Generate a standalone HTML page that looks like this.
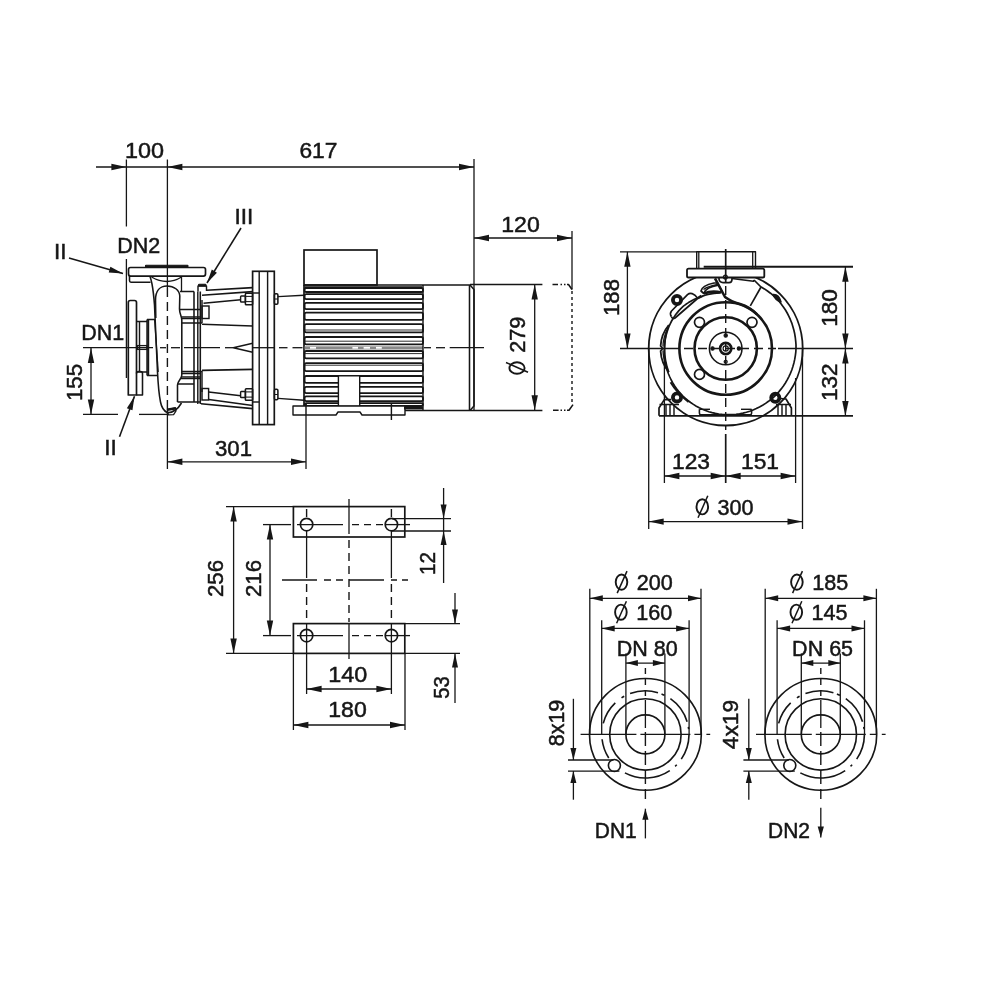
<!DOCTYPE html>
<html><head><meta charset="utf-8"><title>Pump dimension drawing</title>
<style>
html,body{margin:0;padding:0;background:#fff;}
body{width:1000px;height:1000px;overflow:hidden;}
svg{display:block;will-change:transform;}
text{font-family:"Liberation Sans",sans-serif;fill:#161616;stroke:#161616;stroke-width:0.5px;}
</style></head><body>
<svg width="1000" height="1000" viewBox="0 0 1000 1000">
<rect x="0" y="0" width="1000" height="1000" fill="#ffffff"/>
<line x1="96" y1="167" x2="474" y2="167" stroke="#161616" stroke-width="1.3" stroke-linecap="butt"/>
<polygon points="126.40,167.00 111.40,170.20 111.40,163.80" fill="#161616"/>
<polygon points="167.40,167.00 182.40,163.80 182.40,170.20" fill="#161616"/>
<polygon points="474.00,167.00 459.00,170.20 459.00,163.80" fill="#161616"/>
<line x1="126.4" y1="159.5" x2="126.4" y2="226.5" stroke="#161616" stroke-width="1.3" stroke-linecap="butt"/>
<line x1="126.4" y1="259" x2="126.4" y2="378" stroke="#161616" stroke-width="1.3" stroke-linecap="butt"/>
<line x1="167.4" y1="159.5" x2="167.4" y2="288" stroke="#161616" stroke-width="1.3" stroke-linecap="butt"/>
<line x1="167.4" y1="288" x2="167.4" y2="413" stroke="#161616" stroke-width="1.4" stroke-dasharray="9 5" stroke-linecap="butt"/>
<line x1="167.4" y1="413" x2="167.4" y2="469" stroke="#161616" stroke-width="1.3" stroke-linecap="butt"/>
<line x1="474" y1="159" x2="474" y2="411" stroke="#161616" stroke-width="1.3" stroke-linecap="butt"/>
<text x="144.4" y="157.6" font-size="22.5" text-anchor="middle" textLength="39" lengthAdjust="spacingAndGlyphs">100</text>
<text x="318.4" y="157.6" font-size="22.5" text-anchor="middle" textLength="38" lengthAdjust="spacingAndGlyphs">617</text>
<line x1="474" y1="238" x2="572" y2="238" stroke="#161616" stroke-width="1.3" stroke-linecap="butt"/>
<polygon points="474.00,238.00 489.00,234.80 489.00,241.20" fill="#161616"/>
<polygon points="572.00,238.00 557.00,241.20 557.00,234.80" fill="#161616"/>
<line x1="572" y1="231" x2="572" y2="289.5" stroke="#161616" stroke-width="1.3" stroke-linecap="butt"/>
<text x="520.5" y="232.0" font-size="22.5" text-anchor="middle" textLength="38.5" lengthAdjust="spacingAndGlyphs">120</text>
<line x1="534.7" y1="284.5" x2="534.7" y2="410.3" stroke="#161616" stroke-width="1.3" stroke-linecap="butt"/>
<polygon points="534.70,284.50 537.90,299.50 531.50,299.50" fill="#161616"/>
<polygon points="534.70,410.30 531.50,395.30 537.90,395.30" fill="#161616"/>
<line x1="91" y1="348" x2="91" y2="414.4" stroke="#161616" stroke-width="1.3" stroke-linecap="butt"/>
<polygon points="91.00,348.00 94.20,363.00 87.80,363.00" fill="#161616"/>
<polygon points="91.00,414.40 87.80,399.40 94.20,399.40" fill="#161616"/>
<line x1="83" y1="414.4" x2="118" y2="414.4" stroke="#161616" stroke-width="1.3" stroke-linecap="butt"/>
<line x1="139" y1="414.4" x2="167" y2="414.4" stroke="#161616" stroke-width="1.3" stroke-linecap="butt"/>
<text x="82.3" y="382.5" font-size="22.5" text-anchor="middle" transform="rotate(-90 82.3 382.5)" textLength="37" lengthAdjust="spacingAndGlyphs">155</text>
<line x1="167.4" y1="461.8" x2="306" y2="461.8" stroke="#161616" stroke-width="1.3" stroke-linecap="butt"/>
<polygon points="167.40,461.80 182.40,458.60 182.40,465.00" fill="#161616"/>
<polygon points="306.00,461.80 291.00,465.00 291.00,458.60" fill="#161616"/>
<line x1="306" y1="404" x2="306" y2="469" stroke="#161616" stroke-width="1.3" stroke-linecap="butt"/>
<text x="233.5" y="456.1" font-size="22.5" text-anchor="middle" textLength="37" lengthAdjust="spacingAndGlyphs">301</text>
<text x="60.2" y="258.6" font-size="22.5" text-anchor="middle">II</text>
<line x1="69" y1="258" x2="123" y2="273.6" stroke="#161616" stroke-width="1.56" stroke-linecap="butt"/>
<polygon points="123.00,273.60 108.72,272.60 110.38,266.83" fill="#161616"/>
<text x="244" y="223.6" font-size="22.5" text-anchor="middle">III</text>
<line x1="241" y1="228" x2="207" y2="283" stroke="#161616" stroke-width="1.56" stroke-linecap="butt"/>
<polygon points="207.00,283.00 211.81,269.51 216.91,272.67" fill="#161616"/>
<text x="138.8" y="252.6" font-size="22.5" text-anchor="middle" textLength="43" lengthAdjust="spacingAndGlyphs">DN2</text>
<text x="102.7" y="340.2" font-size="22.5" text-anchor="middle" textLength="43" lengthAdjust="spacingAndGlyphs">DN1</text>
<text x="110.5" y="454.6" font-size="22.5" text-anchor="middle">II</text>
<line x1="119.5" y1="436.7" x2="134.5" y2="396.2" stroke="#161616" stroke-width="1.56" stroke-linecap="butt"/>
<polygon points="134.50,396.20 132.45,410.37 126.82,408.29" fill="#161616"/>
<line x1="83" y1="347.7" x2="153" y2="347.7" stroke="#161616" stroke-width="1.3" stroke-linecap="butt"/>
<line x1="160" y1="347.7" x2="166" y2="347.7" stroke="#161616" stroke-width="1.3" stroke-linecap="butt"/>
<line x1="171" y1="347.7" x2="180" y2="347.7" stroke="#161616" stroke-width="1.3" stroke-linecap="butt"/>
<line x1="184" y1="347.7" x2="220" y2="347.7" stroke="#161616" stroke-width="1.3" stroke-linecap="butt"/>
<line x1="225" y1="347.7" x2="233" y2="347.7" stroke="#161616" stroke-width="1.3" stroke-linecap="butt"/>
<line x1="252.6" y1="347.7" x2="275" y2="347.7" stroke="#161616" stroke-width="1.3" stroke-linecap="butt"/>
<line x1="279" y1="347.7" x2="287.5" y2="347.7" stroke="#161616" stroke-width="1.3" stroke-linecap="butt"/>
<line x1="292.5" y1="347.7" x2="302.5" y2="347.7" stroke="#161616" stroke-width="1.3" stroke-linecap="butt"/>
<line x1="424" y1="347.7" x2="431" y2="347.7" stroke="#161616" stroke-width="1.3" stroke-linecap="butt"/>
<line x1="436" y1="347.7" x2="445" y2="347.7" stroke="#161616" stroke-width="1.3" stroke-linecap="butt"/>
<line x1="449.7" y1="347.7" x2="484" y2="347.7" stroke="#161616" stroke-width="1.3" stroke-linecap="butt"/>
<rect x="128.5" y="267.5" width="77" height="8.6" rx="2" ry="2" fill="none" stroke="#161616" stroke-width="1.69"/>
<path d="M129.5,276 L129.5,280.5 Q129.5,282.2 131,282.2 L150.5,282.2" fill="none" stroke="#161616" stroke-width="1.56" stroke-linejoin="round"/>
<rect x="145.5" y="265.3" width="42.5" height="1.6" rx="0.5" ry="0.5" fill="#161616" stroke="#161616" stroke-width="1.04"/>
<path d="M150,276.5 Q151,279 152,284 Q153.5,292 154.5,305 L157.5,372 Q158.5,392 160.5,402 Q162,410 167.5,412.8" fill="none" stroke="#161616" stroke-width="1.56" stroke-linejoin="round"/>
<path d="M151.5,277 Q167,286 181.5,277" fill="none" stroke="#161616" stroke-width="1.43" stroke-linejoin="round"/>
<line x1="181.5" y1="276.5" x2="181.5" y2="291.5" stroke="#161616" stroke-width="1.3" stroke-linecap="butt"/>
<path d="M155.8,318 L155.5,300 C155.5,291 160,286 167,286 C174,286 179.5,290 179.8,296 L179.5,309 C179.5,314 181.8,316 181.8,320 L181.8,375 C181.8,379 177.5,381 177.5,385 L177.5,402" fill="none" stroke="#161616" stroke-width="1.56" stroke-linejoin="round"/>
<path d="M154.6,319 L158.2,372" fill="none" stroke="#161616" stroke-width="1.3" stroke-linejoin="round"/>
<path d="M167.5,412.8 Q176,412.5 181.5,403" fill="none" stroke="#161616" stroke-width="1.56" stroke-linejoin="round"/>
<path d="M167.2,409.6 L175.6,408 L176,411 L173.6,414.6 L168.4,414.8 Z" fill="none" stroke="#161616" stroke-width="1.3" stroke-linejoin="round"/>
<path d="M167.2,409.8 L175.8,408.2" fill="none" stroke="#161616" stroke-width="2.6" stroke-linejoin="round"/>
<path d="M128.3,395 L128.3,302.5 Q128.3,300.5 130.3,300.5 L134.5,300.5 Q136.5,300.5 136.5,302.5 L136.5,395 Z" fill="none" stroke="#161616" stroke-width="1.69" stroke-linejoin="round"/>
<path d="M136.5,373.5 Q136.5,371.5 138.5,371.5 L140.5,371.5 Q142.5,371.5 142.5,373.5 L142.5,395 L136.5,395" fill="none" stroke="#161616" stroke-width="1.56" stroke-linejoin="round"/>
<path d="M136.5,321.5 L147.5,321.5 M136.5,372 L147.5,372 M139.5,321.5 L139.5,372 M147,319.5 L147,375.5 M148.5,319.5 L148.5,375.5" fill="none" stroke="#161616" stroke-width="1.43" stroke-linejoin="round"/>
<path d="M147,319.5 L154.6,319.5 M147,375.5 L158,375.5" fill="none" stroke="#161616" stroke-width="1.43" stroke-linejoin="round"/>
<rect x="137.5" y="345.6" width="9.5" height="3.8" rx="0" ry="0" fill="none" stroke="#161616" stroke-width="1.3"/>
<path d="M180,291.5 L194,291.5 M180,309.5 L200,309.5 M181.8,317 L200,317 M181.8,318.6 L200,318.6 M181.8,323 L202,323" fill="none" stroke="#161616" stroke-width="1.43" stroke-linejoin="round"/>
<path d="M181.8,371.5 L202,371.5 M181.8,373.5 L200,373.5 M181,377 L200,377 M180,378.6 L200,378.6 M177.5,384 L194,384 M177.5,402 L200,402" fill="none" stroke="#161616" stroke-width="1.43" stroke-linejoin="round"/>
<line x1="194" y1="291.5" x2="194" y2="402" stroke="#161616" stroke-width="1.56" stroke-linecap="butt"/>
<line x1="197.8" y1="291.5" x2="197.8" y2="404" stroke="#161616" stroke-width="1.43" stroke-linecap="butt"/>
<line x1="200.3" y1="291.5" x2="200.3" y2="404" stroke="#161616" stroke-width="1.56" stroke-linecap="butt"/>
<line x1="202" y1="300" x2="202" y2="323" stroke="#161616" stroke-width="1.43" stroke-linecap="butt"/>
<line x1="202" y1="371" x2="202" y2="392" stroke="#161616" stroke-width="1.43" stroke-linecap="butt"/>
<path d="M198,291.5 L198,286 L206.5,286 L206.5,291" fill="none" stroke="#161616" stroke-width="1.43" stroke-linejoin="round"/>
<rect x="198.5" y="284.2" width="7.5" height="1.8" rx="0.8" ry="0.8" fill="#161616" stroke="#161616" stroke-width="1.04"/>
<rect x="202" y="306" width="7" height="12.5" rx="0" ry="0" fill="none" stroke="#161616" stroke-width="1.43"/>
<rect x="202" y="388.5" width="6.6" height="11.5" rx="0" ry="0" fill="none" stroke="#161616" stroke-width="1.43"/>
<line x1="206.5" y1="290.2" x2="252.7" y2="287.6" stroke="#161616" stroke-width="1.56" stroke-linecap="butt"/>
<line x1="202" y1="295.2" x2="252.7" y2="291.6" stroke="#161616" stroke-width="1.56" stroke-linecap="butt"/>
<line x1="203.5" y1="303.2" x2="240.7" y2="299.8" stroke="#161616" stroke-width="1.56" stroke-linecap="butt"/>
<line x1="208.6" y1="392" x2="240.7" y2="395.8" stroke="#161616" stroke-width="1.56" stroke-linecap="butt"/>
<line x1="208.8" y1="399.6" x2="252.6" y2="405.6" stroke="#161616" stroke-width="1.56" stroke-linecap="butt"/>
<line x1="201" y1="403.8" x2="252.6" y2="408.6" stroke="#161616" stroke-width="1.56" stroke-linecap="butt"/>
<line x1="202" y1="324.3" x2="252.7" y2="326" stroke="#161616" stroke-width="1.56" stroke-linecap="butt"/>
<line x1="202" y1="370.4" x2="252.7" y2="369.4" stroke="#161616" stroke-width="1.56" stroke-linecap="butt"/>
<path d="M252.7,343.3 L233.3,347.7 L252.7,352.2" fill="none" stroke="#161616" stroke-width="1.43" stroke-linejoin="round"/>
<rect x="252.6" y="271.3" width="21.7" height="153.3" rx="0" ry="0" fill="none" stroke="#161616" stroke-width="1.69"/>
<line x1="259.2" y1="271.3" x2="259.2" y2="424.6" stroke="#161616" stroke-width="1.43" stroke-linecap="butt"/>
<line x1="267.6" y1="271.3" x2="267.6" y2="424.6" stroke="#161616" stroke-width="1.43" stroke-linecap="butt"/>
<rect x="240.6" y="296" width="4.8" height="6" rx="0.8" ry="0.8" fill="none" stroke="#161616" stroke-width="1.43"/>
<rect x="245.4" y="293.3" width="7.2" height="11.4" rx="0.8" ry="0.8" fill="none" stroke="#161616" stroke-width="1.56"/>
<line x1="245.4" y1="296.4" x2="252.6" y2="296.4" stroke="#161616" stroke-width="1.04" stroke-linecap="butt"/>
<line x1="245.4" y1="301.6" x2="252.6" y2="301.6" stroke="#161616" stroke-width="1.04" stroke-linecap="butt"/>
<rect x="274.4" y="293.8" width="3.5" height="10.4" rx="1.2" ry="1.2" fill="none" stroke="#161616" stroke-width="1.56"/>
<line x1="274.4" y1="299" x2="277.9" y2="299" stroke="#161616" stroke-width="1.04" stroke-linecap="butt"/>
<rect x="240.6" y="391.5" width="4.8" height="6" rx="0.8" ry="0.8" fill="none" stroke="#161616" stroke-width="1.43"/>
<rect x="245.4" y="388.8" width="7.2" height="11.4" rx="0.8" ry="0.8" fill="none" stroke="#161616" stroke-width="1.56"/>
<line x1="245.4" y1="391.9" x2="252.6" y2="391.9" stroke="#161616" stroke-width="1.04" stroke-linecap="butt"/>
<line x1="245.4" y1="397.1" x2="252.6" y2="397.1" stroke="#161616" stroke-width="1.04" stroke-linecap="butt"/>
<rect x="274.4" y="389.3" width="3.5" height="10.4" rx="1.2" ry="1.2" fill="none" stroke="#161616" stroke-width="1.56"/>
<line x1="274.4" y1="394.5" x2="277.9" y2="394.5" stroke="#161616" stroke-width="1.04" stroke-linecap="butt"/>
<line x1="252.6" y1="402" x2="259.2" y2="402" stroke="#161616" stroke-width="1.43" stroke-linecap="butt"/>
<line x1="252.6" y1="293" x2="259.2" y2="293" stroke="#161616" stroke-width="1.43" stroke-linecap="butt"/>
<line x1="278" y1="296.6" x2="304" y2="295.2" stroke="#161616" stroke-width="1.43" stroke-linecap="butt"/>
<line x1="278" y1="398.4" x2="304" y2="400.2" stroke="#161616" stroke-width="1.43" stroke-linecap="butt"/>
<rect x="304" y="250" width="73" height="35" rx="0" ry="0" fill="none" stroke="#161616" stroke-width="1.69"/>
<line x1="304" y1="285" x2="470" y2="285" stroke="#161616" stroke-width="1.69" stroke-linecap="butt"/>
<line x1="304" y1="285" x2="304" y2="406" stroke="#161616" stroke-width="1.69" stroke-linecap="butt"/>
<rect x="304.6" y="288" width="118.4" height="4" rx="1.6" ry="1.6" fill="none" stroke="#161616" stroke-width="1.82"/>
<rect x="304.6" y="294.2" width="118.4" height="5.0" rx="1.6" ry="1.6" fill="none" stroke="#161616" stroke-width="1.82"/>
<rect x="304.6" y="302.8" width="118.4" height="6.399999999999977" rx="1.6" ry="1.6" fill="none" stroke="#161616" stroke-width="1.82"/>
<rect x="304.6" y="312.6" width="118.4" height="7.199999999999989" rx="1.6" ry="1.6" fill="none" stroke="#161616" stroke-width="1.82"/>
<rect x="304.6" y="324.2" width="118.4" height="8.199999999999989" rx="1.6" ry="1.6" fill="none" stroke="#161616" stroke-width="1.82"/>
<line x1="305" y1="330" x2="422" y2="330" stroke="#2a2a2a" stroke-width="0.98" stroke-linecap="butt"/>
<rect x="304.6" y="337" width="118.4" height="7.399999999999977" rx="1.6" ry="1.6" fill="none" stroke="#161616" stroke-width="1.82"/>
<line x1="305" y1="341.2" x2="422" y2="341.2" stroke="#2a2a2a" stroke-width="0.98" stroke-linecap="butt"/>
<rect x="304.6" y="351" width="118.4" height="7.399999999999977" rx="1.6" ry="1.6" fill="none" stroke="#161616" stroke-width="1.82"/>
<line x1="305" y1="353.6" x2="422" y2="353.6" stroke="#2a2a2a" stroke-width="0.98" stroke-linecap="butt"/>
<rect x="304.6" y="363.2" width="118.4" height="8.0" rx="1.6" ry="1.6" fill="none" stroke="#161616" stroke-width="1.82"/>
<line x1="305" y1="365.2" x2="422" y2="365.2" stroke="#2a2a2a" stroke-width="0.98" stroke-linecap="butt"/>
<rect x="304.6" y="376" width="118.4" height="6.800000000000011" rx="1.6" ry="1.6" fill="none" stroke="#161616" stroke-width="1.82"/>
<rect x="304.6" y="386.8" width="118.4" height="6.399999999999977" rx="1.6" ry="1.6" fill="none" stroke="#161616" stroke-width="1.82"/>
<rect x="304.6" y="396.4" width="118.4" height="4.800000000000011" rx="1.6" ry="1.6" fill="none" stroke="#161616" stroke-width="1.82"/>
<rect x="304.6" y="403.2" width="118.4" height="2.8000000000000114" rx="1.6" ry="1.6" fill="none" stroke="#161616" stroke-width="1.82"/>
<line x1="304.6" y1="287.6" x2="422" y2="287.6" stroke="#161616" stroke-width="2.86" stroke-linecap="butt"/>
<rect x="304.6" y="346.3" width="118.4" height="3.2" fill="#8a8a8a"/>
<rect x="310" y="346.9" width="6" height="1.8" fill="#fff"/>
<rect x="352.4" y="346.9" width="5.600000000000023" height="1.8" fill="#fff"/>
<rect x="363.6" y="346.9" width="6.399999999999977" height="1.8" fill="#fff"/>
<rect x="376" y="346.9" width="5.800000000000011" height="1.8" fill="#fff"/>
<rect x="338.4" y="375.8" width="21.3" height="30.5" rx="0" ry="0" fill="#fff" stroke="#161616" stroke-width="1.4"/>
<line x1="423" y1="285" x2="423" y2="410.5" stroke="#161616" stroke-width="1.43" stroke-linecap="butt"/>
<path d="M470,285 L474,289.5 L474,406 L470,410.5" fill="none" stroke="#161616" stroke-width="1.56" stroke-linejoin="round"/>
<line x1="469.5" y1="285" x2="469.5" y2="410.5" stroke="#161616" stroke-width="1.56" stroke-linecap="butt"/>
<line x1="404" y1="410.5" x2="542.4" y2="410.5" stroke="#161616" stroke-width="1.56" stroke-linecap="butt"/>
<line x1="470" y1="284.5" x2="542.4" y2="284.5" stroke="#161616" stroke-width="1.56" stroke-linecap="butt"/>
<path d="M552.5,284.5 L558,284.5 M560.5,284.5 L562,284.5 M564,284.5 L565.5,284.5 M567,284.5 L568.5,284.5 L572,289.5" fill="none" stroke="#161616" stroke-width="1.56" stroke-linejoin="round"/>
<line x1="572" y1="291" x2="572" y2="404" stroke="#161616" stroke-width="1.4" stroke-dasharray="3 3" stroke-linecap="butt"/>
<path d="M553,410.3 L558.6,410.3 M560.5,410.3 L562,410.3 M564,410.3 L565.5,410.3 M567,410.3 L569,410.3 L573,404.6" fill="none" stroke="#161616" stroke-width="1.56" stroke-linejoin="round"/>
<path d="M293,406 L405,406 L405,415 L362,415 L360,412 L338,412 L336,415 L293,415 Z" fill="#fff" stroke="#161616" stroke-width="1.4" stroke-linejoin="round"/>
<line x1="391.4" y1="404" x2="391.4" y2="420" stroke="#161616" stroke-width="1.43" stroke-linecap="butt"/>
<line x1="306" y1="404" x2="306" y2="415" stroke="#161616" stroke-width="1.43" stroke-linecap="butt"/>
<line x1="404" y1="408" x2="423" y2="408" stroke="#161616" stroke-width="2.86" stroke-linecap="butt"/>
<line x1="620" y1="251.8" x2="756" y2="251.8" stroke="#161616" stroke-width="1.3" stroke-linecap="butt"/>
<line x1="627.4" y1="251.8" x2="627.4" y2="348.5" stroke="#161616" stroke-width="1.3" stroke-linecap="butt"/>
<polygon points="627.40,251.80 630.60,266.80 624.20,266.80" fill="#161616"/>
<polygon points="627.40,348.50 624.20,333.50 630.60,333.50" fill="#161616"/>
<text x="618.8" y="297.5" font-size="22.5" text-anchor="middle" transform="rotate(-90 618.8 297.5)" textLength="37" lengthAdjust="spacingAndGlyphs">188</text>
<line x1="620" y1="348.5" x2="680" y2="348.5" stroke="#161616" stroke-width="1.3" stroke-linecap="butt"/>
<line x1="684" y1="348.5" x2="776" y2="348.5" stroke="#161616" stroke-width="1.4" stroke-dasharray="9 5" stroke-linecap="butt"/>
<line x1="778" y1="348.5" x2="853" y2="348.5" stroke="#161616" stroke-width="1.3" stroke-linecap="butt"/>
<circle cx="725.7" cy="348.5" r="77" fill="none" stroke="#161616" stroke-width="1.82"/>
<path d="M659,415.8 L659,408 L664.3,399.6 L671,399.6 M791.4,415.8 L791.4,408 L786,399 L780,398.5" fill="none" stroke="#161616" stroke-width="1.69" stroke-linejoin="round"/>
<path d="M666,404.5 L666,415.8 M670,404.5 L670,415.8 M674,404.5 L674,415.8 M659.5,404.5 L679,404.5" fill="none" stroke="#161616" stroke-width="1.43" stroke-linejoin="round"/>
<path d="M778,404.5 L778,415.8 M782,404.5 L782,415.8 M786,404.5 L786,415.8 M776,404.5 L791,404.5" fill="none" stroke="#161616" stroke-width="1.43" stroke-linejoin="round"/>
<line x1="659" y1="415.8" x2="853" y2="415.8" stroke="#161616" stroke-width="1.69" stroke-linecap="butt"/>
<path d="M699.4,409.3 L699.4,413.2 Q699.4,414.8 701,414.8 L750,414.8 Q751.6,414.8 751.6,413.2 L751.6,409.3" fill="none" stroke="#161616" stroke-width="1.56" stroke-linejoin="round"/>
<line x1="699.4" y1="409.3" x2="710" y2="409.3" stroke="#161616" stroke-width="1.43" stroke-linecap="butt"/>
<line x1="741" y1="409.3" x2="751.6" y2="409.3" stroke="#161616" stroke-width="1.43" stroke-linecap="butt"/>
<path d="M719.9,293.0 L716.9,293.1 L714.0,293.4 L711.1,293.8 L708.1,294.4 L705.2,295.2 L702.4,296.1 L699.5,297.1 L696.7,298.3 L693.9,299.5 L691.2,301.0 L688.5,302.6 L685.9,304.3 L683.4,306.2 L681.1,308.3 L678.9,310.6 L676.9,313.1 L675.0,315.6 L673.3,318.2 L671.6,321.0 L670.2,323.8 L668.9,326.7 L667.8,329.7 L666.8,332.7 L666.0,335.8 L665.3,338.9 L664.9,342.1 L664.5,345.3 L664.4,348.5 L664.3,351.7 L664.4,354.9 L664.7,358.2 L665.1,361.4 L665.7,364.6 L666.5,367.7 L667.4,370.9 L668.5,374.0 L669.8,377.0 L671.2,380.0 L672.8,382.9 L674.5,385.7 L676.4,388.4 L678.4,391.0 L680.6,393.6 L682.9,396.0 L685.4,398.3 L687.9,400.5 L690.6,402.5 L693.4,404.4 L696.3,406.2 L699.3,407.8 L702.4,409.2 L705.5,410.5 L708.8,411.7 L712.1,412.6 L715.4,413.4 L718.8,414.0 L722.2,414.4 L725.7,414.7 L729.2,414.7 L732.6,414.6 L736.1,414.3 L739.6,413.8 L743.0,413.1 L746.4,412.2 L749.8,411.2 L753.1,410.0 L756.3,408.6 L759.5,407.0 L762.6,405.3 L765.6,403.4 L768.5,401.3 L771.3,399.1 L774.0,396.8 L776.5,394.3 L779.0,391.6 L781.2,388.9 L783.4,386.0 L785.4,383.0 L787.2,379.9 L788.9,376.6 L790.4,373.4 L791.8,370.0 L792.9,366.5 L793.9,363.0 L794.7,359.4 L795.3,355.8 L795.8,352.2 L796.0,348.5 L796.0,344.8 L795.7,341.1 L795.3,337.5 L794.7,333.8 L793.9,330.2 L792.9,326.7 L791.8,323.1 L790.4,319.7 L788.9,316.3 L787.2,313.0 L785.3,309.8 L783.2,306.7 L781.0,303.7 L778.6,300.8 L776.1,298.1 L773.4,295.6 L770.5,293.2 L767.5,291.0 L764.4,288.9 L761.2,287.0 L761.0,287.0 L754.0,280.0" fill="none" stroke="#161616" stroke-width="1.69" stroke-linejoin="round"/>
<path d="M696.7,268.5 L696.7,251.8 L755.5,251.8 L755.5,268.5" fill="#fff" stroke="#161616" stroke-width="1.4" stroke-linejoin="round"/>
<line x1="698.8" y1="251.8" x2="698.8" y2="268.5" stroke="#161616" stroke-width="1.3" stroke-linecap="butt"/>
<line x1="752.7" y1="251.8" x2="752.7" y2="268.5" stroke="#161616" stroke-width="1.3" stroke-linecap="butt"/>
<rect x="687" y="268.7" width="77.3" height="8.8" rx="1.6" ry="1.6" fill="#fff" stroke="#161616" stroke-width="1.82"/>
<line x1="703.7" y1="266.8" x2="853" y2="266.8" stroke="#161616" stroke-width="1.95" stroke-linecap="butt"/>
<circle cx="725.7" cy="348.5" r="46.3" fill="none" stroke="#161616" stroke-width="2.6"/>
<circle cx="725.7" cy="348.5" r="31.2" fill="none" stroke="#161616" stroke-width="2.6"/>
<circle cx="725.7" cy="348.5" r="16.3" fill="none" stroke="#161616" stroke-width="1.56"/>
<circle cx="725.7" cy="348.5" r="5.6" fill="none" stroke="#161616" stroke-width="2.6"/>
<circle cx="725.7" cy="348.5" r="2.6" fill="none" stroke="#161616" stroke-width="1.17"/>
<circle cx="699.5" cy="322.3" r="5" fill="none" stroke="#161616" stroke-width="1.69"/>
<circle cx="752.0" cy="322.3" r="5" fill="none" stroke="#161616" stroke-width="1.69"/>
<circle cx="699.5" cy="374.4" r="5" fill="none" stroke="#161616" stroke-width="1.69"/>
<circle cx="712.5" cy="348.5" r="1.7" fill="#161616" stroke="#161616" stroke-width="1.04"/>
<circle cx="738.9000000000001" cy="348.5" r="1.7" fill="#161616" stroke="#161616" stroke-width="1.04"/>
<circle cx="725.7" cy="335.5" r="1.7" fill="#161616" stroke="#161616" stroke-width="1.04"/>
<circle cx="725.7" cy="361.8" r="1.5" fill="none" stroke="#161616" stroke-width="1.3"/>
<circle cx="677" cy="300" r="4.1" fill="none" stroke="#161616" stroke-width="3.77"/>
<circle cx="677" cy="397.4" r="4.1" fill="none" stroke="#161616" stroke-width="3.77"/>
<circle cx="775.3" cy="397.8" r="4.1" fill="none" stroke="#161616" stroke-width="3.77"/>
<path d="M773,294.5 Q779,294 781,302 Q775,300 773,294.5 Z" fill="#161616" stroke="#161616" stroke-width="1.56" stroke-linejoin="round"/>
<path d="M715,278.3 L725,297 Q731,301.5 740,304 Q750,307 757,314.4" fill="none" stroke="#161616" stroke-width="2.6" stroke-linejoin="round"/>
<line x1="761" y1="287" x2="750.3" y2="305.8" stroke="#161616" stroke-width="1.69" stroke-linecap="butt"/>
<path d="M719,277.8 L719,279.2 Q719.5,282.6 723,282.6 L729,282.6 Q732,282.6 732,279.2 L732,277.8" fill="none" stroke="#161616" stroke-width="1.69" stroke-linejoin="round"/>
<circle cx="725.4" cy="277.1" r="1.9" fill="none" stroke="#161616" stroke-width="1.3"/>
<path d="M732,278.4 L753.5,281.3 L754,280" fill="none" stroke="#161616" stroke-width="1.56" stroke-linejoin="round"/>
<path d="M671.3,316.5 Q669.5,313.5 671.5,311 L687.5,294.6 Q689.5,293 692,293.6 L695,295.2 L698,298.5" fill="none" stroke="#161616" stroke-width="1.69" stroke-linejoin="round"/>
<path d="M671.3,316.5 Q672.5,319.5 675,318 L701,295.5" fill="none" stroke="#161616" stroke-width="1.69" stroke-linejoin="round"/>
<path d="M698,298.5 L703,296.2" fill="none" stroke="#161616" stroke-width="1.43" stroke-linejoin="round"/>
<path d="M701,291 Q702,285.5 714,283 L717.5,283 L718.2,285.2 Q706,287 703.8,293.5 Z" fill="none" stroke="#161616" stroke-width="1.69" stroke-linejoin="round"/>
<path d="M703.5,289.6 Q708,286 717.8,284.4" fill="none" stroke="#161616" stroke-width="1.3" stroke-linejoin="round"/>
<path d="M703.8,293.5 Q712,290.2 721.5,292.6" fill="none" stroke="#161616" stroke-width="2.6" stroke-linejoin="round"/>
<path d="M717.5,283 L720.5,288.5 L722.5,292" fill="none" stroke="#161616" stroke-width="1.43" stroke-linejoin="round"/>
<path d="M668.8,325 Q661.2,334 660.6,346 L662.8,348.5 L660.6,351 Q661.2,363 668.8,372" fill="none" stroke="#161616" stroke-width="1.82" stroke-linejoin="round"/>
<path d="M668.8,325 Q664.6,336 664.6,348.5 Q664.6,361 668.8,372" fill="none" stroke="#161616" stroke-width="1.56" stroke-linejoin="round"/>
<path d="M666.8,330 Q663,339 663,346.5 M663,350.5 Q663,358 666.8,367" fill="none" stroke="#161616" stroke-width="1.3" stroke-linejoin="round"/>
<path d="M670.6,382.3 Q677,393 688.6,402" fill="none" stroke="#161616" stroke-width="2.08" stroke-linejoin="round"/>
<line x1="725.7" y1="249" x2="725.7" y2="283" stroke="#161616" stroke-width="1.69" stroke-linecap="butt"/>
<line x1="725.7" y1="286" x2="725.7" y2="430" stroke="#161616" stroke-width="1.4" stroke-dasharray="9 5" stroke-linecap="butt"/>
<line x1="725.7" y1="434" x2="725.7" y2="483" stroke="#161616" stroke-width="1.69" stroke-linecap="butt"/>
<line x1="845.4" y1="266.8" x2="845.4" y2="416" stroke="#161616" stroke-width="1.3" stroke-linecap="butt"/>
<polygon points="845.40,266.80 848.60,281.80 842.20,281.80" fill="#161616"/>
<polygon points="845.40,348.50 842.20,333.50 848.60,333.50" fill="#161616"/>
<polygon points="845.40,348.50 848.60,363.50 842.20,363.50" fill="#161616"/>
<polygon points="845.40,416.00 842.20,401.00 848.60,401.00" fill="#161616"/>
<text x="836.9" y="308" font-size="22.5" text-anchor="middle" transform="rotate(-90 836.9 308)" textLength="37.5" lengthAdjust="spacingAndGlyphs">180</text>
<text x="836.9" y="382.2" font-size="22.5" text-anchor="middle" transform="rotate(-90 836.9 382.2)" textLength="37.5" lengthAdjust="spacingAndGlyphs">132</text>
<line x1="648.7" y1="348.5" x2="648.7" y2="529" stroke="#161616" stroke-width="1.3" stroke-linecap="butt"/>
<line x1="802.5" y1="348.5" x2="802.5" y2="529" stroke="#161616" stroke-width="1.3" stroke-linecap="butt"/>
<line x1="664.4" y1="354" x2="664.4" y2="483" stroke="#161616" stroke-width="1.3" stroke-linecap="butt"/>
<line x1="795.6" y1="378" x2="795.6" y2="483" stroke="#161616" stroke-width="1.3" stroke-linecap="butt"/>
<line x1="664.4" y1="476" x2="795.6" y2="476" stroke="#161616" stroke-width="1.3" stroke-linecap="butt"/>
<polygon points="664.40,476.00 679.40,472.80 679.40,479.20" fill="#161616"/>
<polygon points="725.70,476.00 710.70,479.20 710.70,472.80" fill="#161616"/>
<polygon points="725.70,476.00 740.70,472.80 740.70,479.20" fill="#161616"/>
<polygon points="795.60,476.00 780.60,479.20 780.60,472.80" fill="#161616"/>
<text x="691" y="468.6" font-size="22.5" text-anchor="middle" textLength="38" lengthAdjust="spacingAndGlyphs">123</text>
<text x="760" y="468.6" font-size="22.5" text-anchor="middle" textLength="38" lengthAdjust="spacingAndGlyphs">151</text>
<line x1="648.7" y1="521.6" x2="802.5" y2="521.6" stroke="#161616" stroke-width="1.3" stroke-linecap="butt"/>
<polygon points="648.70,521.60 663.70,518.40 663.70,524.80" fill="#161616"/>
<polygon points="802.50,521.60 787.50,524.80 787.50,518.40" fill="#161616"/>
<g>
<ellipse cx="702.3000000000001" cy="506.8" rx="5.8" ry="7.6" fill="none" stroke="#161616" stroke-width="1.9"/>
<line x1="698.0" y1="517.8" x2="707.8000000000001" y2="495.8" stroke="#161616" stroke-width="1.5"/>
<text x="717.6" y="514.6" font-size="22.5" text-anchor="start" textLength="36" lengthAdjust="spacingAndGlyphs">300</text>
</g>
<rect x="293.4" y="506.6" width="111.4" height="30.4" rx="0" ry="0" fill="none" stroke="#161616" stroke-width="1.69"/>
<rect x="293.4" y="623.6" width="111.4" height="29.8" rx="0" ry="0" fill="none" stroke="#161616" stroke-width="1.69"/>
<line x1="226" y1="506.6" x2="293.4" y2="506.6" stroke="#161616" stroke-width="1.3" stroke-linecap="butt"/>
<line x1="226" y1="653.4" x2="293.4" y2="653.4" stroke="#161616" stroke-width="1.3" stroke-linecap="butt"/>
<line x1="405" y1="623.6" x2="460" y2="623.6" stroke="#161616" stroke-width="1.3" stroke-linecap="butt"/>
<line x1="405" y1="653.4" x2="460" y2="653.4" stroke="#161616" stroke-width="1.3" stroke-linecap="butt"/>
<line x1="233.6" y1="506.6" x2="233.6" y2="653.4" stroke="#161616" stroke-width="1.3" stroke-linecap="butt"/>
<polygon points="233.60,506.60 236.80,521.60 230.40,521.60" fill="#161616"/>
<polygon points="233.60,653.40 230.40,638.40 236.80,638.40" fill="#161616"/>
<line x1="270" y1="524.6" x2="270" y2="635.6" stroke="#161616" stroke-width="1.3" stroke-linecap="butt"/>
<polygon points="270.00,524.60 273.20,539.60 266.80,539.60" fill="#161616"/>
<polygon points="270.00,635.60 266.80,620.60 273.20,620.60" fill="#161616"/>
<text x="223.3" y="578.5" font-size="22.5" text-anchor="middle" transform="rotate(-90 223.3 578.5)" textLength="37" lengthAdjust="spacingAndGlyphs">256</text>
<text x="261.3" y="578.5" font-size="22.5" text-anchor="middle" transform="rotate(-90 261.3 578.5)" textLength="37" lengthAdjust="spacingAndGlyphs">216</text>
<line x1="263" y1="524.6" x2="291" y2="524.6" stroke="#161616" stroke-width="1.3" stroke-linecap="butt"/>
<line x1="297" y1="524.6" x2="343" y2="524.6" stroke="#161616" stroke-width="1.3" stroke-linecap="butt"/>
<line x1="352" y1="524.6" x2="386" y2="524.6" stroke="#161616" stroke-width="1.4" stroke-dasharray="7 5" stroke-linecap="butt"/>
<line x1="386" y1="524.6" x2="410" y2="524.6" stroke="#161616" stroke-width="1.3" stroke-linecap="butt"/>
<circle cx="306.6" cy="524.6" r="6.2" fill="none" stroke="#161616" stroke-width="1.69"/>
<circle cx="391.4" cy="524.6" r="6.2" fill="none" stroke="#161616" stroke-width="1.69"/>
<line x1="263" y1="635.6" x2="291" y2="635.6" stroke="#161616" stroke-width="1.3" stroke-linecap="butt"/>
<line x1="297" y1="635.6" x2="343" y2="635.6" stroke="#161616" stroke-width="1.3" stroke-linecap="butt"/>
<line x1="352" y1="635.6" x2="386" y2="635.6" stroke="#161616" stroke-width="1.4" stroke-dasharray="7 5" stroke-linecap="butt"/>
<line x1="386" y1="635.6" x2="410" y2="635.6" stroke="#161616" stroke-width="1.3" stroke-linecap="butt"/>
<circle cx="306.6" cy="635.6" r="6.2" fill="none" stroke="#161616" stroke-width="1.69"/>
<circle cx="391.4" cy="635.6" r="6.2" fill="none" stroke="#161616" stroke-width="1.69"/>
<line x1="349" y1="499" x2="349" y2="534" stroke="#161616" stroke-width="1.3" stroke-linecap="butt"/>
<line x1="349" y1="540" x2="349" y2="622" stroke="#161616" stroke-width="1.4" stroke-dasharray="8 5" stroke-linecap="butt"/>
<line x1="349" y1="624" x2="349" y2="659" stroke="#161616" stroke-width="1.3" stroke-linecap="butt"/>
<line x1="282" y1="580" x2="317" y2="580" stroke="#161616" stroke-width="1.3" stroke-linecap="butt"/>
<line x1="324" y1="580" x2="346" y2="580" stroke="#161616" stroke-width="1.4" stroke-dasharray="7 5" stroke-linecap="butt"/>
<line x1="349" y1="580" x2="384" y2="580" stroke="#161616" stroke-width="1.3" stroke-linecap="butt"/>
<line x1="391" y1="580" x2="408" y2="580" stroke="#161616" stroke-width="1.4" stroke-dasharray="6 5" stroke-linecap="butt"/>
<line x1="306.6" y1="509" x2="306.6" y2="520" stroke="#161616" stroke-width="1.4" stroke-dasharray="8 4" stroke-linecap="butt"/>
<line x1="306.6" y1="531" x2="306.6" y2="578" stroke="#161616" stroke-width="1.3" stroke-linecap="butt"/>
<line x1="306.6" y1="584" x2="306.6" y2="622" stroke="#161616" stroke-width="1.4" stroke-dasharray="8 5" stroke-linecap="butt"/>
<line x1="391.4" y1="509" x2="391.4" y2="520" stroke="#161616" stroke-width="1.4" stroke-dasharray="8 4" stroke-linecap="butt"/>
<line x1="391.4" y1="531" x2="391.4" y2="578" stroke="#161616" stroke-width="1.3" stroke-linecap="butt"/>
<line x1="391.4" y1="584" x2="391.4" y2="622" stroke="#161616" stroke-width="1.4" stroke-dasharray="8 5" stroke-linecap="butt"/>
<line x1="306.6" y1="624" x2="306.6" y2="694" stroke="#161616" stroke-width="1.3" stroke-linecap="butt"/>
<line x1="391.4" y1="624" x2="391.4" y2="694" stroke="#161616" stroke-width="1.3" stroke-linecap="butt"/>
<line x1="293.4" y1="653.4" x2="293.4" y2="730" stroke="#161616" stroke-width="1.3" stroke-linecap="butt"/>
<line x1="405" y1="653.4" x2="405" y2="730" stroke="#161616" stroke-width="1.3" stroke-linecap="butt"/>
<line x1="306.6" y1="689" x2="391.4" y2="689" stroke="#161616" stroke-width="1.3" stroke-linecap="butt"/>
<polygon points="306.60,689.00 321.60,685.80 321.60,692.20" fill="#161616"/>
<polygon points="391.40,689.00 376.40,692.20 376.40,685.80" fill="#161616"/>
<line x1="293.4" y1="725" x2="405" y2="725" stroke="#161616" stroke-width="1.3" stroke-linecap="butt"/>
<polygon points="293.40,725.00 308.40,721.80 308.40,728.20" fill="#161616"/>
<polygon points="405.00,725.00 390.00,728.20 390.00,721.80" fill="#161616"/>
<text x="347.7" y="681.6" font-size="22.5" text-anchor="middle" textLength="39" lengthAdjust="spacingAndGlyphs">140</text>
<text x="347.5" y="717.2" font-size="22.5" text-anchor="middle" textLength="38.5" lengthAdjust="spacingAndGlyphs">180</text>
<line x1="392" y1="518.6" x2="451" y2="518.6" stroke="#161616" stroke-width="1.3" stroke-linecap="butt"/>
<line x1="392" y1="531" x2="451" y2="531" stroke="#161616" stroke-width="1.3" stroke-linecap="butt"/>
<line x1="443.6" y1="488" x2="443.6" y2="583" stroke="#161616" stroke-width="1.3" stroke-linecap="butt"/>
<polygon points="443.60,518.60 440.60,504.60 446.60,504.60" fill="#161616"/>
<polygon points="443.60,531.00 446.60,545.00 440.60,545.00" fill="#161616"/>
<text x="435.3" y="563.5" font-size="22.5" text-anchor="middle" transform="rotate(-90 435.3 563.5)" textLength="23" lengthAdjust="spacingAndGlyphs">12</text>
<line x1="455" y1="593" x2="455" y2="623.6" stroke="#161616" stroke-width="1.3" stroke-linecap="butt"/>
<line x1="455" y1="653.4" x2="455" y2="703" stroke="#161616" stroke-width="1.3" stroke-linecap="butt"/>
<polygon points="455.00,623.60 452.00,609.60 458.00,609.60" fill="#161616"/>
<polygon points="455.00,653.40 458.00,667.40 452.00,667.40" fill="#161616"/>
<text x="448.9" y="687.5" font-size="22.5" text-anchor="middle" transform="rotate(-90 448.9 687.5)" textLength="22.5" lengthAdjust="spacingAndGlyphs">53</text>
<circle cx="645.4" cy="734.4" r="55.9" fill="none" stroke="#161616" stroke-width="1.62"/>
<circle cx="645.4" cy="734.4" r="35.7" fill="none" stroke="#161616" stroke-width="1.62"/>
<circle cx="645.4" cy="734.4" r="19.5" fill="none" stroke="#161616" stroke-width="1.62"/>
<path d="M689.00,735.01 A43.6,43.6 0 0 1 681.29,759.16 M676.76,764.69 A43.6,43.6 0 0 1 675.14,766.29 M669.78,770.55 A43.6,43.6 0 0 1 624.93,772.90 M608.75,758.02 A43.6,43.6 0 0 1 602.07,739.26 M603.23,723.34 A43.6,43.6 0 0 1 615.28,702.88 M621.53,697.92 A43.6,43.6 0 0 1 624.20,696.30 M630.06,693.59 A43.6,43.6 0 0 1 658.00,692.66 M661.52,693.89 A43.6,43.6 0 0 1 664.58,695.25 M670.41,698.68 A43.6,43.6 0 0 1 687.14,721.80 M688.34,726.83 A43.6,43.6 0 0 1 688.68,729.09 " fill="none" stroke="#161616" stroke-width="1.62" stroke-linejoin="round"/>
<circle cx="614.4" cy="765.5" r="6.0" fill="none" stroke="#161616" stroke-width="1.62"/>
<line x1="589.8" y1="588.8" x2="589.8" y2="734.4" stroke="#161616" stroke-width="1.3" stroke-linecap="butt"/>
<line x1="701.0" y1="588.8" x2="701.0" y2="734.4" stroke="#161616" stroke-width="1.3" stroke-linecap="butt"/>
<line x1="589.8" y1="598.3" x2="701.0" y2="598.3" stroke="#161616" stroke-width="1.3" stroke-linecap="butt"/>
<polygon points="589.80,598.30 602.80,595.30 602.80,601.30" fill="#161616"/>
<polygon points="701.00,598.30 688.00,601.30 688.00,595.30" fill="#161616"/>
<line x1="601.6999999999999" y1="620.3" x2="601.6999999999999" y2="734.4" stroke="#161616" stroke-width="1.3" stroke-linecap="butt"/>
<line x1="689.1" y1="620.3" x2="689.1" y2="734.4" stroke="#161616" stroke-width="1.3" stroke-linecap="butt"/>
<line x1="601.6999999999999" y1="628.4" x2="689.1" y2="628.4" stroke="#161616" stroke-width="1.3" stroke-linecap="butt"/>
<polygon points="601.70,628.40 614.70,625.40 614.70,631.40" fill="#161616"/>
<polygon points="689.10,628.40 676.10,631.40 676.10,625.40" fill="#161616"/>
<line x1="625.9" y1="653.6" x2="625.9" y2="734.4" stroke="#161616" stroke-width="1.3" stroke-linecap="butt"/>
<line x1="664.9" y1="653.6" x2="664.9" y2="734.4" stroke="#161616" stroke-width="1.3" stroke-linecap="butt"/>
<line x1="625.9" y1="663.1" x2="664.9" y2="663.1" stroke="#161616" stroke-width="1.3" stroke-linecap="butt"/>
<polygon points="625.90,663.10 637.90,660.10 637.90,666.10" fill="#161616"/>
<polygon points="664.90,663.10 652.90,666.10 652.90,660.10" fill="#161616"/>
<g>
<ellipse cx="621.5" cy="582.0999999999999" rx="5.8" ry="7.6" fill="none" stroke="#161616" stroke-width="1.9"/>
<line x1="617.1999999999999" y1="593.0999999999999" x2="627.0" y2="571.0999999999999" stroke="#161616" stroke-width="1.5"/>
<text x="636.8" y="589.9" font-size="22.5" text-anchor="start" textLength="36" lengthAdjust="spacingAndGlyphs">200</text>
</g>
<g>
<ellipse cx="620.9" cy="612.1999999999999" rx="5.8" ry="7.6" fill="none" stroke="#161616" stroke-width="1.9"/>
<line x1="616.5999999999999" y1="623.1999999999999" x2="626.4" y2="601.1999999999999" stroke="#161616" stroke-width="1.5"/>
<text x="636.1999999999999" y="620.0" font-size="22.5" text-anchor="start" textLength="36" lengthAdjust="spacingAndGlyphs">160</text>
</g>
<text x="647.1999999999999" y="656.0" font-size="22.5" text-anchor="middle" textLength="61" lengthAdjust="spacingAndGlyphs">DN 80</text>
<line x1="580.6" y1="734.4" x2="636.4" y2="734.4" stroke="#161616" stroke-width="1.3" stroke-linecap="butt"/>
<line x1="640.4" y1="734.4" x2="690.4" y2="734.4" stroke="#161616" stroke-width="1.3" stroke-linecap="butt"/>
<line x1="694.4" y1="734.4" x2="710.1999999999999" y2="734.4" stroke="#161616" stroke-width="1.4" stroke-dasharray="7 5" stroke-linecap="butt"/>
<line x1="645.4" y1="668" x2="645.4" y2="700" stroke="#161616" stroke-width="1.4" stroke-dasharray="6 5" stroke-linecap="butt"/>
<line x1="645.4" y1="700" x2="645.4" y2="728" stroke="#161616" stroke-width="1.3" stroke-linecap="butt"/>
<line x1="645.4" y1="732" x2="645.4" y2="799" stroke="#161616" stroke-width="1.4" stroke-dasharray="14 5" stroke-linecap="butt"/>
<line x1="568.0" y1="760" x2="613.4" y2="760" stroke="#161616" stroke-width="1.3" stroke-linecap="butt"/>
<line x1="568.0" y1="771.1" x2="619.4" y2="771.1" stroke="#161616" stroke-width="1.3" stroke-linecap="butt"/>
<line x1="573.4" y1="698.8" x2="573.4" y2="760" stroke="#161616" stroke-width="1.3" stroke-linecap="butt"/>
<line x1="573.4" y1="771.1" x2="573.4" y2="799.7" stroke="#161616" stroke-width="1.3" stroke-linecap="butt"/>
<polygon points="573.40,760.00 570.40,748.00 576.40,748.00" fill="#161616"/>
<polygon points="573.40,771.10 576.40,783.10 570.40,783.10" fill="#161616"/>
<text x="564.4" y="723" font-size="22.5" text-anchor="middle" transform="rotate(-90 564.4 723)" textLength="46.5" lengthAdjust="spacingAndGlyphs">8x19</text>
<line x1="645.4" y1="808.7" x2="645.4" y2="838.4" stroke="#161616" stroke-width="1.3" stroke-linecap="butt"/>
<polygon points="645.40,808.70 648.50,819.70 642.30,819.70" fill="#161616"/>
<text x="615.8" y="838.1" font-size="22.5" text-anchor="middle" textLength="42" lengthAdjust="spacingAndGlyphs">DN1</text>
<circle cx="820.8" cy="734.4" r="55.9" fill="none" stroke="#161616" stroke-width="1.62"/>
<circle cx="820.8" cy="734.4" r="35.7" fill="none" stroke="#161616" stroke-width="1.62"/>
<circle cx="820.8" cy="734.4" r="19.5" fill="none" stroke="#161616" stroke-width="1.62"/>
<path d="M864.40,735.01 A43.6,43.6 0 0 1 856.69,759.16 M852.16,764.69 A43.6,43.6 0 0 1 850.54,766.29 M845.18,770.55 A43.6,43.6 0 0 1 800.33,772.90 M784.15,758.02 A43.6,43.6 0 0 1 777.47,739.26 M778.63,723.34 A43.6,43.6 0 0 1 790.68,702.88 M796.93,697.92 A43.6,43.6 0 0 1 799.60,696.30 M805.46,693.59 A43.6,43.6 0 0 1 833.40,692.66 M836.92,693.89 A43.6,43.6 0 0 1 839.98,695.25 M845.81,698.68 A43.6,43.6 0 0 1 862.54,721.80 M863.74,726.83 A43.6,43.6 0 0 1 864.08,729.09 " fill="none" stroke="#161616" stroke-width="1.62" stroke-linejoin="round"/>
<circle cx="789.8" cy="765.5" r="6.0" fill="none" stroke="#161616" stroke-width="1.62"/>
<line x1="765.1999999999999" y1="588.8" x2="765.1999999999999" y2="734.4" stroke="#161616" stroke-width="1.3" stroke-linecap="butt"/>
<line x1="876.4" y1="588.8" x2="876.4" y2="734.4" stroke="#161616" stroke-width="1.3" stroke-linecap="butt"/>
<line x1="765.1999999999999" y1="598.3" x2="876.4" y2="598.3" stroke="#161616" stroke-width="1.3" stroke-linecap="butt"/>
<polygon points="765.20,598.30 778.20,595.30 778.20,601.30" fill="#161616"/>
<polygon points="876.40,598.30 863.40,601.30 863.40,595.30" fill="#161616"/>
<line x1="777.0999999999999" y1="620.3" x2="777.0999999999999" y2="734.4" stroke="#161616" stroke-width="1.3" stroke-linecap="butt"/>
<line x1="864.5" y1="620.3" x2="864.5" y2="734.4" stroke="#161616" stroke-width="1.3" stroke-linecap="butt"/>
<line x1="777.0999999999999" y1="628.4" x2="864.5" y2="628.4" stroke="#161616" stroke-width="1.3" stroke-linecap="butt"/>
<polygon points="777.10,628.40 790.10,625.40 790.10,631.40" fill="#161616"/>
<polygon points="864.50,628.40 851.50,631.40 851.50,625.40" fill="#161616"/>
<line x1="801.3" y1="653.6" x2="801.3" y2="734.4" stroke="#161616" stroke-width="1.3" stroke-linecap="butt"/>
<line x1="840.3" y1="653.6" x2="840.3" y2="734.4" stroke="#161616" stroke-width="1.3" stroke-linecap="butt"/>
<line x1="801.3" y1="663.1" x2="840.3" y2="663.1" stroke="#161616" stroke-width="1.3" stroke-linecap="butt"/>
<polygon points="801.30,663.10 813.30,660.10 813.30,666.10" fill="#161616"/>
<polygon points="840.30,663.10 828.30,666.10 828.30,660.10" fill="#161616"/>
<g>
<ellipse cx="796.9" cy="582.0999999999999" rx="5.8" ry="7.6" fill="none" stroke="#161616" stroke-width="1.9"/>
<line x1="792.5999999999999" y1="593.0999999999999" x2="802.4" y2="571.0999999999999" stroke="#161616" stroke-width="1.5"/>
<text x="812.1999999999999" y="589.9" font-size="22.5" text-anchor="start" textLength="36" lengthAdjust="spacingAndGlyphs">185</text>
</g>
<g>
<ellipse cx="796.3" cy="612.1999999999999" rx="5.8" ry="7.6" fill="none" stroke="#161616" stroke-width="1.9"/>
<line x1="791.9999999999999" y1="623.1999999999999" x2="801.8" y2="601.1999999999999" stroke="#161616" stroke-width="1.5"/>
<text x="811.5999999999999" y="620.0" font-size="22.5" text-anchor="start" textLength="36" lengthAdjust="spacingAndGlyphs">145</text>
</g>
<text x="822.5999999999999" y="656.0" font-size="22.5" text-anchor="middle" textLength="61" lengthAdjust="spacingAndGlyphs">DN 65</text>
<line x1="756.0" y1="734.4" x2="811.8" y2="734.4" stroke="#161616" stroke-width="1.3" stroke-linecap="butt"/>
<line x1="815.8" y1="734.4" x2="865.8" y2="734.4" stroke="#161616" stroke-width="1.3" stroke-linecap="butt"/>
<line x1="869.8" y1="734.4" x2="885.5999999999999" y2="734.4" stroke="#161616" stroke-width="1.4" stroke-dasharray="7 5" stroke-linecap="butt"/>
<line x1="820.8" y1="668" x2="820.8" y2="700" stroke="#161616" stroke-width="1.4" stroke-dasharray="6 5" stroke-linecap="butt"/>
<line x1="820.8" y1="700" x2="820.8" y2="728" stroke="#161616" stroke-width="1.3" stroke-linecap="butt"/>
<line x1="820.8" y1="732" x2="820.8" y2="799" stroke="#161616" stroke-width="1.4" stroke-dasharray="14 5" stroke-linecap="butt"/>
<line x1="743.4" y1="760" x2="788.8" y2="760" stroke="#161616" stroke-width="1.3" stroke-linecap="butt"/>
<line x1="743.4" y1="771.1" x2="794.8" y2="771.1" stroke="#161616" stroke-width="1.3" stroke-linecap="butt"/>
<line x1="748.8" y1="698.8" x2="748.8" y2="760" stroke="#161616" stroke-width="1.3" stroke-linecap="butt"/>
<line x1="748.8" y1="771.1" x2="748.8" y2="799.7" stroke="#161616" stroke-width="1.3" stroke-linecap="butt"/>
<polygon points="748.80,760.00 745.80,748.00 751.80,748.00" fill="#161616"/>
<polygon points="748.80,771.10 751.80,783.10 745.80,783.10" fill="#161616"/>
<text x="738.2" y="724.5" font-size="22.5" text-anchor="middle" transform="rotate(-90 738.2 724.5)" textLength="49.5" lengthAdjust="spacingAndGlyphs">4x19</text>
<line x1="820.8" y1="807.8" x2="820.8" y2="837.5" stroke="#161616" stroke-width="1.3" stroke-linecap="butt"/>
<polygon points="820.80,837.50 817.70,826.50 823.90,826.50" fill="#161616"/>
<text x="789.0" y="838.1" font-size="22.5" text-anchor="middle" textLength="42" lengthAdjust="spacingAndGlyphs">DN2</text>
<g transform="rotate(-90 524.2 374.7)">
<ellipse cx="530.9000000000001" cy="367.5" rx="5.8" ry="7.6" fill="none" stroke="#161616" stroke-width="1.9"/>
<line x1="526.6" y1="378.5" x2="536.4000000000001" y2="356.5" stroke="#161616" stroke-width="1.5"/>
<text x="546.2" y="375.3" font-size="22.5" text-anchor="start" textLength="36" lengthAdjust="spacingAndGlyphs">279</text>
</g>
</svg>
</body></html>
